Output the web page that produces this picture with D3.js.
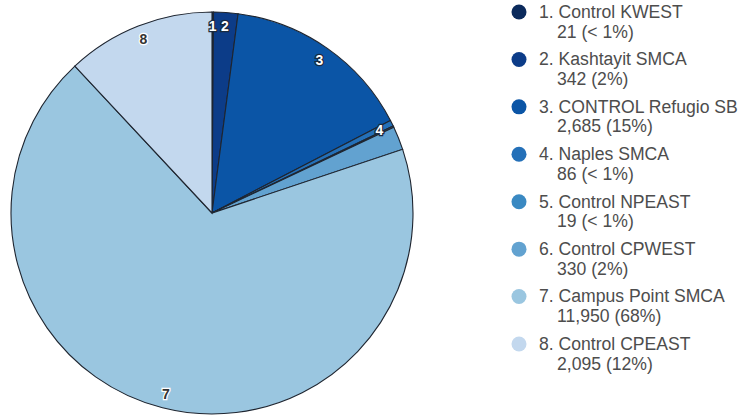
<!DOCTYPE html>
<html><head><meta charset="utf-8">
<script src="https://cdn.jsdelivr.net/npm/d3@7/dist/d3.min.js"></script>
<style>body{margin:0;background:#fff}svg{display:block}</style>
</head><body>
<svg id="c" width="738" height="418"></svg>
<script>
const categories = ["Control KWEST","Kashtayit SMCA","CONTROL Refugio SB","Naples SMCA","Control NPEAST","Control CPWEST","Campus Point SMCA","Control CPEAST"];
const values = [21, 342, 2685, 86, 19, 330, 11950, 2095];
const percentLabels = ["< 1%","2%","15%","< 1%","< 1%","2%","68%","12%"];
const colors = ["#0b2a5c","#0c3c88","#0b55a6","#2470b8","#3a89c2","#62a2d0","#9ac6e0","#c3d8ee"];
const showLabel = [true,true,true,true,false,false,true,true];
const darkLabel = [false,false,false,false,false,false,true,true];

const svg = d3.select("#c");
const cx = 212, cy = 213, R = 201;
const g = svg.append("g").attr("transform", `translate(${cx},${cy})`);
const pie = d3.pie().sort(null).value(d => d)(values);
const arc = d3.arc().innerRadius(0).outerRadius(R);
const labelArc = d3.arc().innerRadius(187).outerRadius(187);
const color = d3.scaleOrdinal().domain(d3.range(values.length)).range(colors);

g.selectAll("path").data(pie).join("path")
  .attr("d", arc)
  .attr("fill", (d,i) => color(i))
  .attr("stroke", "#1e2530").attr("stroke-width", 1.1);

g.selectAll("text.l").data(pie.filter((d,i)=>showLabel[i])).join("text")
  .attr("class","l")
  .attr("transform", d => `translate(${labelArc.centroid(d)})`)
  .attr("text-anchor","middle").attr("dy","0.36em")
  .attr("font-family","Liberation Sans, Arial, sans-serif")
  .attr("font-weight","bold").attr("font-size","14px")
  .attr("paint-order","stroke")
  .attr("stroke", d => darkLabel[d.index] ? "#ffffff" : "#1a2a40")
  .attr("stroke-width", 2.5)
  .attr("fill", d => darkLabel[d.index] ? "#333333" : "#ffffff")
  .text(d => d.index + 1);

const fmt = d3.format(",");
const leg = svg.append("g");
const yPos = d3.scaleLinear().domain([0, 7]).range([12, 344]);
const items = leg.selectAll("g").data(categories).join("g")
  .attr("transform", (d,i) => `translate(519,${yPos(i)})`);
items.append("circle").attr("r", 7.5).attr("fill", (d,i) => color(i));
const t = items.append("text")
  .attr("font-family","Liberation Sans, Arial, sans-serif")
  .attr("font-size","17.6px").attr("fill","#4d4d4d");
t.append("tspan").attr("x", 20).attr("y", 5.8).text((d,i) => `${i+1}. ${d}`);
t.append("tspan").attr("x", 38).attr("y", 25.5).text((d,i) => `${fmt(values[i])} (${percentLabels[i]})`);
</script>
</body></html>
